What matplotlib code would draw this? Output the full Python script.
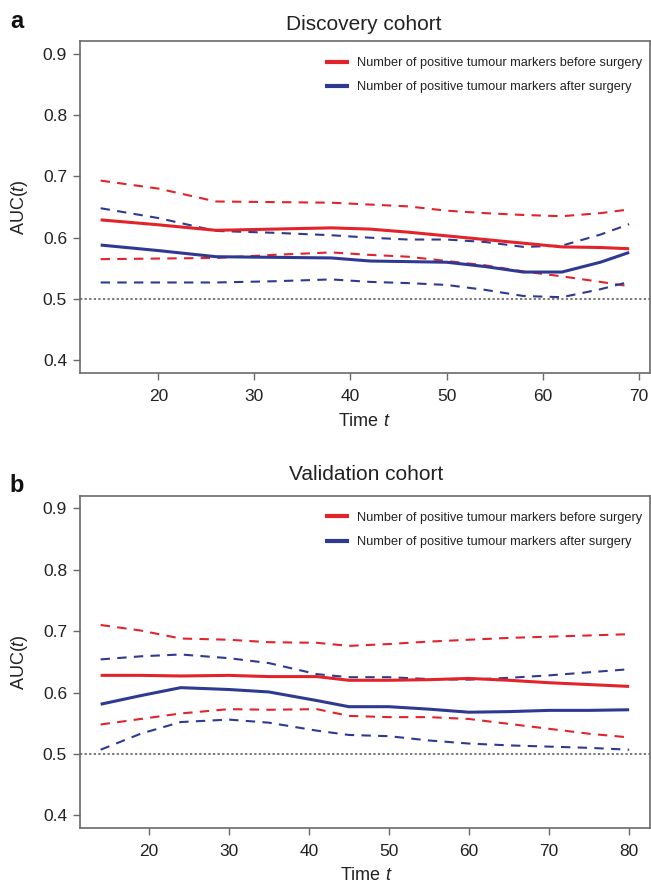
import matplotlib
matplotlib.use("Agg")
import matplotlib.pyplot as plt
from matplotlib import font_manager

# panel a - discovery cohort
time_a = [14, 20, 26, 32, 38, 42, 46, 50, 54, 58, 62, 66, 69]
before_a = [0.629, 0.621, 0.612, 0.614, 0.616, 0.614, 0.609, 0.603, 0.597, 0.591, 0.585, 0.584, 0.582]
before_a_hi = [0.693, 0.680, 0.659, 0.658, 0.657, 0.654, 0.651, 0.644, 0.640, 0.637, 0.635, 0.640, 0.646]
before_a_lo = [0.565, 0.566, 0.567, 0.572, 0.576, 0.572, 0.569, 0.562, 0.555, 0.545, 0.537, 0.528, 0.521]
after_a = [0.588, 0.579, 0.569, 0.568, 0.567, 0.562, 0.561, 0.560, 0.553, 0.544, 0.544, 0.560, 0.576]
after_a_hi = [0.648, 0.632, 0.611, 0.608, 0.604, 0.600, 0.597, 0.597, 0.593, 0.585, 0.587, 0.605, 0.622]
after_a_lo = [0.527, 0.527, 0.527, 0.529, 0.532, 0.528, 0.526, 0.523, 0.515, 0.505, 0.503, 0.516, 0.528]

# panel b - validation cohort
time_b = [14, 19, 24, 30, 35, 41, 45, 50, 55, 60, 65, 70, 75, 80]
before_b = [0.628, 0.628, 0.627, 0.628, 0.626, 0.626, 0.620, 0.620, 0.621, 0.623, 0.620, 0.616, 0.613, 0.610]
before_b_hi = [0.710, 0.701, 0.688, 0.686, 0.682, 0.681, 0.676, 0.679, 0.683, 0.686, 0.689, 0.691, 0.693, 0.695]
before_b_lo = [0.548, 0.557, 0.566, 0.573, 0.572, 0.573, 0.562, 0.560, 0.560, 0.557, 0.549, 0.541, 0.533, 0.527]
after_b = [0.581, 0.595, 0.608, 0.605, 0.601, 0.587, 0.577, 0.577, 0.573, 0.568, 0.569, 0.571, 0.571, 0.572]
after_b_hi = [0.654, 0.659, 0.662, 0.656, 0.648, 0.630, 0.625, 0.625, 0.622, 0.621, 0.624, 0.628, 0.633, 0.638]
after_b_lo = [0.507, 0.533, 0.552, 0.556, 0.551, 0.538, 0.531, 0.529, 0.522, 0.517, 0.514, 0.512, 0.510, 0.507]

legend_labels = ["Number of positive tumour markers before surgery",
                 "Number of positive tumour markers after surgery"]

RED = "#e3232a"
BLUE = "#2e3a92"
SPINE = "#6a6a6a"

FONT = "Liberation Sans"
try:
    font_manager.findfont("Liberation Sans Narrow", fallback_to_default=False)
    LEG_FONT, LEG_SIZE = "Liberation Sans Narrow", 11.0
except Exception:
    LEG_FONT, LEG_SIZE = "Liberation Sans", 9.2

plt.rcParams["font.family"] = FONT
plt.rcParams["mathtext.fontset"] = "custom"
plt.rcParams["mathtext.rm"] = FONT
plt.rcParams["mathtext.it"] = FONT + ":italic"

W, H = 651, 882
fig = plt.figure(figsize=(W / 100, H / 100), dpi=100)


def px_axes(left, top, right, bottom):
    return fig.add_axes([left / W, 1 - bottom / H, (right - left) / W, (bottom - top) / H])


def draw_panel(ax, t, est1, hi1, lo1, est2, hi2, lo2, xticks):
    ax.axhline(0.5, color="#555555", lw=1.1, ls=(0, (1.5, 1.5)), zorder=1)
    ax.plot(t, hi1, color=RED, lw=1.5, ls=(0, (4.5, 3.5)))
    ax.plot(t, lo1, color=RED, lw=1.5, ls=(0, (4.5, 3.5)))
    ax.plot(t, hi2, color=BLUE, lw=1.5, ls=(0, (4.5, 3.5)))
    ax.plot(t, lo2, color=BLUE, lw=1.5, ls=(0, (4.5, 3.5)))
    l1, = ax.plot(t, est1, color=RED, lw=2.2, solid_capstyle="butt")
    l2, = ax.plot(t, est2, color=BLUE, lw=2.2, solid_capstyle="butt")
    span = t[-1] - t[0]
    ax.set_xlim(t[0] - 0.04 * span, t[-1] + 0.04 * span)
    ax.set_ylim(0.38, 0.92)
    ax.set_yticks([0.4, 0.5, 0.6, 0.7, 0.8, 0.9])
    ax.set_yticklabels(["0.4", "0.5", "0.6", "0.7", "0.8", "0.9"])
    ax.set_xticks(xticks)
    for s in ax.spines.values():
        s.set_color(SPINE)
        s.set_linewidth(1.2)
    ax.tick_params(axis="both", direction="out", length=5, width=1.0, color=SPINE,
                   labelsize=12.5, labelcolor="#222222")
    ax.tick_params(axis="y", pad=4)
    ax.tick_params(axis="x", pad=7)
    leg = ax.legend([l1, l2], legend_labels, loc="upper right", frameon=False,
                    prop={"family": LEG_FONT, "size": LEG_SIZE},
                    handlelength=1.9, handletextpad=0.6, labelspacing=0.95,
                    bbox_to_anchor=(0.999, 0.975), borderaxespad=0.2)
    for txt in leg.get_texts():
        txt.set_color("#222222")
    for ln in leg.get_lines():
        ln.set_linewidth(3.0)


ax_a = px_axes(79.5, 41.3, 650.3, 372.7)
draw_panel(ax_a, time_a, before_a, before_a_hi, before_a_lo,
           after_a, after_a_hi, after_a_lo, [20, 30, 40, 50, 60, 70])

ax_b = px_axes(79.5, 496, 650.3, 827.7)
draw_panel(ax_b, time_b, before_b, before_b_hi, before_b_lo,
           after_b, after_b_hi, after_b_lo, [20, 30, 40, 50, 60, 70, 80])


def fig_text(x, y, s, **kw):
    fig.text(x / W, 1 - y / H, s, ha="center", va="center", **kw)


fig_text(17, 22, "a", fontsize=17, fontweight="bold", color="#111111")
fig_text(364, 24, "Discovery cohort", fontsize=15, color="#222222")
fig_text(364, 422, "Time $t$", fontsize=13, color="#222222")
fig_text(19, 207, "AUC($t$)", fontsize=13, color="#222222", rotation=90)

fig_text(17, 486, "b", fontsize=17, fontweight="bold", color="#111111")
fig_text(366, 475, "Validation cohort", fontsize=15, color="#222222")
fig_text(366, 875, "Time $t$", fontsize=13, color="#222222")
fig_text(19, 662, "AUC($t$)", fontsize=13, color="#222222", rotation=90)

fig.savefig("out.png", dpi=100)
